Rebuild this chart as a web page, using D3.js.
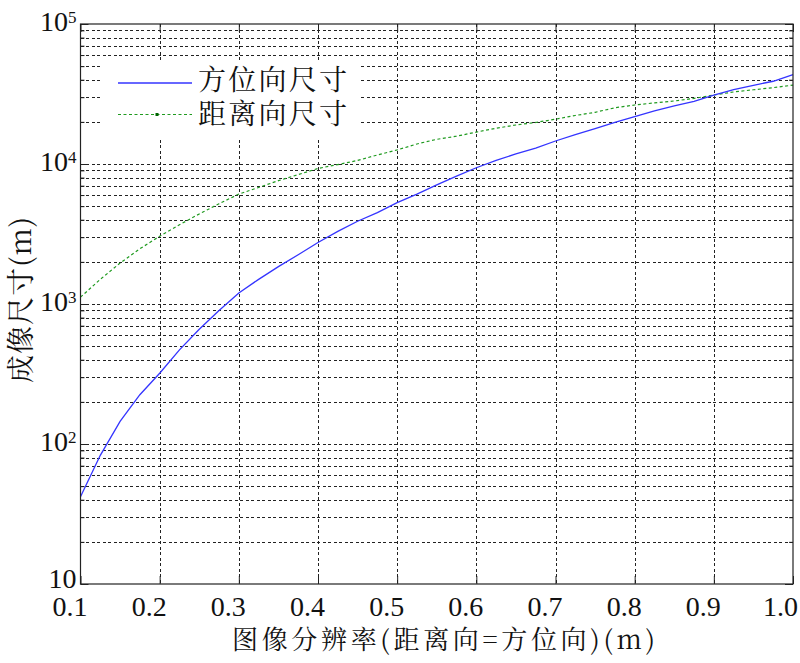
<!DOCTYPE html>
<html>
<head>
<meta charset="utf-8">
<script src="https://cdn.jsdelivr.net/npm/d3@7"></script>
<style>
  html, body { margin: 0; padding: 0; background: #fff; }
  svg { display: block; }
</style>
</head>
<body>
<div id="chart"></div>
<script>
// ---------- DATA ----------
const resolution = [0.100,0.125,0.150,0.175,0.200,0.225,0.250,0.275,0.300,0.325,0.350,0.375,0.400,0.425,0.450,0.475,0.500,0.525,0.550,0.575,0.600,0.625,0.650,0.675,0.700,0.725,0.750,0.775,0.800,0.825,0.850,0.875,0.900,0.925,0.950,0.975,1.000];
const azimuthSize = [42,83,145,225,320,470,660,900,1200,1500,1850,2250,2750,3300,3900,4500,5300,6100,7100,8200,9400,10600,11800,13000,14600,16200,17900,19800,21800,24000,26000,28000,31000,34000,36500,39000,43500];
const rangeSize = [1120,1500,1960,2480,3050,3680,4400,5200,6100,6800,7600,8400,9300,9900,10600,11600,12600,13900,15000,15800,16900,18000,19000,19800,20900,22200,23400,25200,26400,27300,28200,29400,31100,32700,33900,35100,36600];
const seriesNames = ["方位向尺寸", "距离向尺寸"];
const xTickValues = [0.1,0.2,0.3,0.4,0.5,0.6,0.7,0.8,0.9,1.0];
const xTickLabels = ["0.1","0.2","0.3","0.4","0.5","0.6","0.7","0.8","0.9","1.0"];
const yDecadeExponents = [1,2,3,4,5];
const xAxisTitle = "图像分辨率(距离向=方位向)(m)";
const yAxisTitle = "成像尺寸(m)";

// ---------- LAYOUT ----------
const W = 800, H = 663;
const L = 80.5, R = 793, T = 24, B = 584;
const FONT = "Noto Serif CJK SC";
const NUMFONT = "Liberation Serif";

const svg = d3.select("#chart").append("svg")
  .attr("width", W).attr("height", H);

const x = d3.scaleLinear().domain([0.1, 1.0]).range([L, R]);
const y = d3.scaleLog().domain([10, 1e5]).range([B, T]);

const majorY = yDecadeExponents.map(e => Math.pow(10, e));
const minorY = [];
for (let e = 1; e < 5; e++) for (let k = 2; k <= 9; k++) minorY.push(k * Math.pow(10, e));
const allGridY = minorY.concat(majorY.filter(v => v > 10 && v < 1e5));

// ---------- GRID ----------
const grid = svg.append("g").attr("stroke", "#222").attr("stroke-width", 1)
  .attr("stroke-dasharray", "3,2.5").attr("shape-rendering", "crispEdges");
grid.selectAll("line.gy").data(allGridY).enter().append("line")
  .attr("x1", L).attr("x2", R)
  .attr("y1", d => Math.round(y(d)) + 0.5).attr("y2", d => Math.round(y(d)) + 0.5);
grid.selectAll("line.gx").data(xTickValues.slice(1, -1)).enter().append("line")
  .attr("y1", T).attr("y2", B)
  .attr("x1", d => Math.round(x(d)) + 0.5).attr("x2", d => Math.round(x(d)) + 0.5);

// ---------- CURVES ----------
const line = d3.line().x((d, i) => x(resolution[i])).y(d => y(d));
svg.append("path").datum(rangeSize)
  .attr("fill", "none").attr("stroke", "#1f9a1f").attr("stroke-width", 1.2)
  .attr("stroke-dasharray", "3,2.5").attr("d", line);
svg.append("path").datum(azimuthSize)
  .attr("fill", "none").attr("stroke", "#3434ff").attr("stroke-width", 1.3)
  .attr("d", line);

// ---------- AXES ----------
const axisStyle = g => {
  g.attr("font-family", NUMFONT).attr("font-size", null);
  g.select(".domain").remove();
  g.selectAll(".tick line").attr("stroke", "#222").attr("stroke-width", 1);
};
// bottom
const gxB = svg.append("g").attr("transform", `translate(0,${B})`)
  .call(d3.axisBottom(x).tickValues(xTickValues).tickSize(-8)
    .tickFormat((d, i) => xTickLabels[i]));
axisStyle(gxB);
gxB.selectAll(".tick text").attr("fill", "#111").attr("font-size", 28).attr("font-family", NUMFONT)
  .attr("y", 32).attr("dy", 0).attr("dx", (d, i) => i === xTickValues.length - 1 ? -13 : -11);
// top
const gxT = svg.append("g").attr("transform", `translate(0,${T})`)
  .call(d3.axisTop(x).tickValues(xTickValues).tickSize(-8).tickFormat(""));
axisStyle(gxT);
// left major
const gyL = svg.append("g").attr("transform", `translate(${L},0)`)
  .call(d3.axisLeft(y).tickValues(majorY).tickSize(-8).tickFormat(""));
axisStyle(gyL);
gyL.selectAll(".tick").each(function(d, i) {
  const e = yDecadeExponents[i];
  const t = d3.select(this).append("text")
    .attr("fill", "#111").attr("text-anchor", "end").attr("font-family", NUMFONT)
    .attr("x", -4).attr("y", e === 1 ? 3 : 6.5);
  t.append("tspan").attr("font-size", 28).text("10");
  if (e !== 1) {
    t.append("tspan").attr("font-size", 17).attr("dy", -8).text(String(e));
  }
});
// left minor
const gyLm = svg.append("g").attr("transform", `translate(${L},0)`)
  .call(d3.axisLeft(y).tickValues(minorY).tickSize(-4).tickFormat(""));
axisStyle(gyLm);
// right major/minor
const gyR = svg.append("g").attr("transform", `translate(${R},0)`)
  .call(d3.axisRight(y).tickValues(majorY).tickSize(-8).tickFormat(""));
axisStyle(gyR);
const gyRm = svg.append("g").attr("transform", `translate(${R},0)`)
  .call(d3.axisRight(y).tickValues(minorY).tickSize(-4).tickFormat(""));
axisStyle(gyRm);

// frame
svg.append("rect").attr("x", L).attr("y", T).attr("width", R - L).attr("height", B - T)
  .attr("fill", "none").attr("stroke", "#222").attr("stroke-width", 1.2);

// ---------- LEGEND ----------
const lg = svg.append("g");
lg.append("rect").attr("x", 103).attr("y", 60).attr("width", 257).attr("height", 77)
  .attr("fill", "#fff");
lg.append("line").attr("x1", 118).attr("x2", 192).attr("y1", 83).attr("y2", 83)
  .attr("stroke", "#3434ff").attr("stroke-width", 1.5);
lg.append("line").attr("x1", 118).attr("x2", 192).attr("y1", 114.5).attr("y2", 114.5)
  .attr("stroke", "#1f9a1f").attr("stroke-width", 1.2).attr("stroke-dasharray", "3,2.5");
lg.append("rect").attr("x", 155.5).attr("y", 113).attr("width", 3).attr("height", 3)
  .attr("fill", "#006400");
lg.append("text").attr("x", 198).attr("y", 90).attr("font-size", 28).attr("font-family", FONT)
  .attr("textLength", 149).attr("lengthAdjust", "spacing").attr("fill", "#111").text(seriesNames[0]);
lg.append("text").attr("x", 198).attr("y", 124).attr("font-size", 28).attr("font-family", FONT)
  .attr("textLength", 149).attr("lengthAdjust", "spacing").attr("fill", "#111").text(seriesNames[1]);

// ---------- TITLES ----------
svg.append("text").attr("x", 232).attr("y", 649).attr("font-size", 26).attr("font-family", FONT)
  .attr("textLength", 423).attr("lengthAdjust", "spacing").attr("fill", "#111").text(xAxisTitle);
svg.append("text").attr("transform", "translate(31,300) rotate(-90)").attr("font-family", FONT)
  .attr("text-anchor", "middle").attr("font-size", 28)
  .attr("textLength", 166).attr("lengthAdjust", "spacing").attr("fill", "#111").text(yAxisTitle);
</script>
</body>
</html>
